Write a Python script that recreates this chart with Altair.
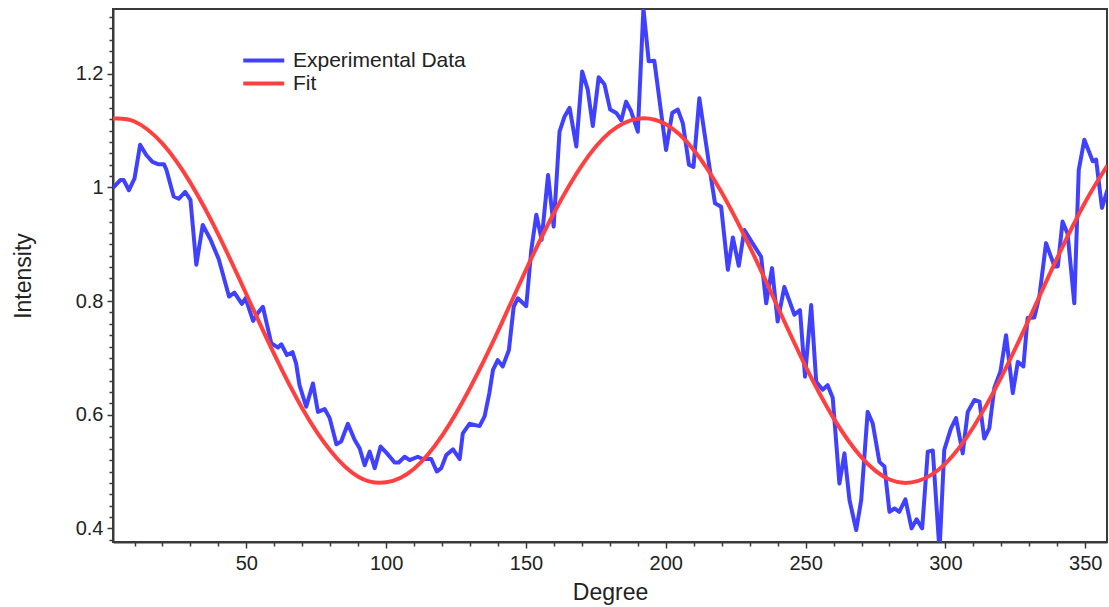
import altair as alt
import pandas as pd

exp_deg = [2.3, 4.9, 6.1, 8.0, 10.0, 12.0, 14.2, 16.4, 18.4, 20.5, 21.4, 24.0, 25.8, 28.1, 30.0,
           32.1, 34.4, 37.2, 40.1, 43.8, 45.7, 48.4, 49.7, 52.4, 54.1, 55.9, 58.9, 61.3, 62.5,
           64.5, 66.5, 67.8, 69.0, 71.4, 73.8, 75.6, 78.0, 79.8, 82.2, 83.9, 86.3, 88.7, 90.5,
           92.3, 94.1, 95.9, 98.0, 100.3, 103.0, 104.5, 106.6, 108.4, 111.3, 113.1, 116.1, 118.1,
           119.7, 121.5, 123.9, 126.3, 127.4, 129.8, 133.4, 135.2, 136.9, 138.2, 139.9, 141.7,
           143.9, 145.6, 147.1, 150.1, 151.9, 153.7, 155.6, 157.9, 159.9, 162.0, 163.8, 165.6,
           168.0, 170.1, 172.1, 173.9, 176.0, 178.1, 180.1, 182.3, 184.1, 185.8, 187.6, 190.0,
           192.0, 193.9, 195.9, 200.1, 202.3, 204.3, 206.1, 208.3, 209.9, 212.0, 216.4, 217.6,
           219.8, 222.2, 224.0, 226.1, 228.1, 231.4, 234.1, 235.9, 238.0, 240.0, 242.4, 246.0,
           248.0, 249.8, 252.0, 253.8, 256.1, 257.9, 259.7, 262.1, 263.9, 265.7, 268.1, 269.9,
           272.2, 274.0, 276.4, 278.2, 280.0, 281.8, 283.5, 285.7, 287.9, 289.7, 291.7, 293.7,
           295.5, 297.9, 299.6, 302.0, 303.8, 306.2, 308.0, 310.4, 312.2, 313.9, 315.7, 317.5,
           319.7, 321.7, 324.1, 325.9, 327.9, 329.4, 331.8, 333.6, 336.0, 339.0, 340.2, 341.9,
           343.7, 346.1, 347.7, 349.7, 352.7, 353.9, 356.0, 358.0]
exp_int = [0.999, 1.013, 1.013, 0.995, 1.016, 1.075, 1.057, 1.045, 1.041, 1.041, 1.031, 0.984, 0.980,
           0.992, 0.978, 0.864, 0.934, 0.908, 0.874, 0.808, 0.815, 0.795, 0.805, 0.765, 0.779,
           0.790, 0.726, 0.718, 0.724, 0.705, 0.710, 0.690, 0.652, 0.614, 0.655, 0.605, 0.610,
           0.594, 0.548, 0.553, 0.584, 0.556, 0.541, 0.511, 0.535, 0.506, 0.544, 0.532, 0.516,
           0.516, 0.526, 0.520, 0.526, 0.522, 0.522, 0.500, 0.506, 0.529, 0.539, 0.522, 0.567,
           0.584, 0.580, 0.597, 0.638, 0.679, 0.696, 0.685, 0.714, 0.790, 0.805, 0.791, 0.890,
           0.952, 0.908, 1.022, 0.931, 1.098, 1.125, 1.140, 1.072, 1.204, 1.172, 1.108, 1.194,
           1.181, 1.137, 1.131, 1.118, 1.151, 1.134, 1.098, 1.315, 1.222, 1.223, 1.066, 1.131,
           1.137, 1.113, 1.040, 1.036, 1.157, 1.010, 0.972, 0.966, 0.855, 0.912, 0.862, 0.925,
           0.899, 0.878, 0.796, 0.858, 0.764, 0.825, 0.776, 0.784, 0.667, 0.793, 0.658, 0.644,
           0.652, 0.630, 0.479, 0.532, 0.450, 0.397, 0.450, 0.605, 0.585, 0.517, 0.509, 0.429,
           0.435, 0.429, 0.451, 0.400, 0.416, 0.400, 0.535, 0.537, 0.360, 0.538, 0.576, 0.594,
           0.532, 0.605, 0.626, 0.623, 0.558, 0.576, 0.647, 0.676, 0.740, 0.638, 0.693, 0.685,
           0.770, 0.771, 0.808, 0.902, 0.861, 0.861, 0.940, 0.919, 0.796, 1.031, 1.084, 1.046,
           1.049, 0.964, 0.996]

# Fit curve values
fit_deg = [2, 10, 20, 30, 40, 50, 60, 70, 80, 90, 100, 110, 120, 130, 140, 150, 160, 170, 180,
           190, 200, 210, 220, 230, 240, 250, 260, 270, 280, 290, 300, 310, 320, 330, 340, 350, 358]
fit_int = [1.121, 1.116, 1.077, 1.008, 0.917, 0.812, 0.706, 0.611, 0.537, 0.491, 0.481, 0.505,
           0.563, 0.647, 0.747, 0.855, 0.955, 1.039, 1.097, 1.121, 1.111, 1.066, 0.991, 0.896,
           0.790, 0.685, 0.594, 0.525, 0.486, 0.483, 0.514, 0.578, 0.666, 0.769, 0.876, 0.974, 1.039]

series_names = ["Experimental Data", "Fit"]
series_colors = ["#4040FF", "#FF4040"]

x_major = [50, 100, 150, 200, 250, 300, 350]
x_minor = [10, 20, 30, 40, 60, 70, 80, 90, 110, 120, 130, 140, 160, 170, 180, 190, 210, 220, 230,
           240, 260, 270, 280, 290, 310, 320, 330, 340]
y_major = [0.4, 0.6, 0.8, 1.0, 1.2]
y_minor = [0.38, 0.42, 0.44, 0.46, 0.48, 0.50, 0.52, 0.54, 0.56, 0.58, 0.62, 0.64, 0.66, 0.68,
           0.70, 0.72, 0.74, 0.76, 0.78, 0.82, 0.84, 0.86, 0.88, 0.90, 0.92, 0.94, 0.96, 0.98,
           1.02, 1.04, 1.06, 1.08, 1.10, 1.12, 1.14, 1.16, 1.18, 1.22, 1.24, 1.26, 1.28, 1.30]

X_DOMAIN = [2.3, 357.8]
Y_DOMAIN = [0.376, 1.314]

exp_df = pd.DataFrame({"deg": exp_deg, "val": exp_int, "series": series_names[0]})
fit_df = pd.DataFrame({"deg": fit_deg, "val": fit_int, "series": series_names[1]})

FONT = "Liberation Sans"
AX = "#3a3a3a"

xs = alt.Scale(domain=X_DOMAIN, nice=False, zero=False)
ys = alt.Scale(domain=Y_DOMAIN, nice=False, zero=False)

color_scale = alt.Scale(domain=series_names, range=series_colors)
legend = alt.Legend(
    orient="none", legendX=128, legendY=39, padding=0,
    symbolType="M-1,0L3,0", symbolSize=420, symbolStrokeWidth=4,
    labelFont=FONT, labelFontSize=21, labelColor="#222222", labelOffset=27,
    labelLimit=400, rowPadding=0, symbolOpacity=1,
)

minor = alt.Chart(fit_df).mark_point(opacity=0).encode(
    x=alt.X("deg:Q", scale=xs, axis=alt.Axis(values=x_minor, labels=False, domain=False,
                                             tickSize=4, title=None, orient="bottom", grid=False)),
    y=alt.Y("val:Q", scale=ys, axis=alt.Axis(values=y_minor, labels=False, domain=False,
                                             tickSize=4, title=None, orient="left", grid=False)),
)

exp = alt.Chart(exp_df).mark_line(strokeWidth=4, clip=True, strokeJoin="round").encode(
    x=alt.X("deg:Q", scale=xs, axis=alt.Axis(values=x_major, title="Degree", orient="bottom",
                                             tickSize=6, labelPadding=5, titlePadding=8, grid=False)),
    y=alt.Y("val:Q", scale=ys, axis=alt.Axis(values=y_major, format="~g", title="Intensity",
                                             orient="left", tickSize=6, labelPadding=4,
                                             titlePadding=40, grid=False)),
    color=alt.Color("series:N", scale=color_scale, legend=legend, title=None),
)

fit = alt.Chart(fit_df).mark_line(strokeWidth=4, clip=True, interpolate="natural").encode(
    x=alt.X("deg:Q", scale=xs, axis=None),
    y=alt.Y("val:Q", scale=ys, axis=None),
    color=alt.Color("series:N", scale=color_scale, legend=legend, title=None),
)

chart = alt.layer(minor, exp, fit).resolve_axis(x="independent", y="independent").properties(
    width=994, height=533,
    autosize=alt.AutoSizeParams(type="none"),
    padding={"left": 113, "top": 9, "right": 2, "bottom": 65},
    background="white",
).configure_view(
    stroke=AX, strokeWidth=2
).configure_axis(
    labelFont=FONT, labelFontSize=20, labelColor="#222222",
    titleFont=FONT, titleFontSize=23, titleFontWeight="normal", titleColor="#222222",
    domainColor=AX, domainWidth=2, tickColor=AX, tickWidth=1.5,
)

chart.save("out.html", embed_options={"renderer": "svg", "actions": False})
